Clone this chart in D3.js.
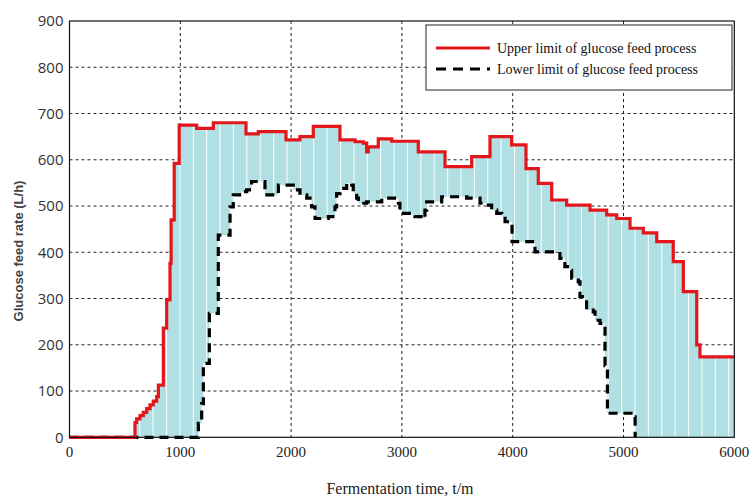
<!DOCTYPE html>
<html lang="en">
<head>
<meta charset="UTF-8">
<title>Glucose feed rate limits</title>
<script src="https://cdn.jsdelivr.net/npm/d3@7"></script>
<style>
    body { margin: 0; background: #fff; }
    .grid line { stroke: #222; stroke-width: 1; stroke-dasharray: 3,3; }
    .ytick { font-family: "Open Sans", sans-serif; font-size: 15px; fill: #333; }
    .xtick { font-family: "Liberation Serif", serif; font-size: 15px; fill: #222; }
    .legend text { font-family: "Liberation Serif", serif; font-size: 14px; fill: #111; }
</style>
</head>
<body>
<div id="chart"></div>
<script>
// upper limit of glucose feed, step values (time in min, rate in L/h)
var upperTime = [0, 591, 606, 636, 666, 697, 727, 756, 787, 802, 847, 877, 907, 917, 945, 990,
    1148, 1298, 1593, 1704, 1954, 2080, 2200, 2441, 2577, 2652, 2682, 2697, 2787, 2908, 3148,
    3389, 3630, 3795, 3990, 4120, 4231, 4352, 4487, 4698, 4848, 4939, 5059, 5179, 5300, 5449,
    5540, 5661, 5690, 6000];
var upperRate = [0, 32, 40, 47, 54, 62, 70, 78, 88, 113, 236, 297, 376, 470, 592, 675,
    668, 680, 656, 661, 643, 650, 672, 643, 639, 636, 617, 628, 645, 640, 617,
    585, 607, 650, 632, 581, 549, 513, 502, 491, 481, 473, 452, 442, 423, 380,
    315, 200, 174, 174];

// lower limit of glucose feed
var lowerTime = [0, 1163, 1193, 1208, 1262, 1343, 1449, 1478, 1554, 1599, 1644, 1764, 1885,
    2020, 2080, 2141, 2186, 2216, 2336, 2396, 2411, 2441, 2502, 2547, 2561, 2592, 2607, 2682,
    2818, 2968, 2982, 2998, 3088, 3118, 3193, 3208, 3224, 3359, 3585, 3705, 3765, 3810, 3856,
    3901, 3931, 3994, 4201, 4426, 4471, 4517, 4532, 4592, 4607, 4652, 4667, 4727, 4743, 4788,
    4833, 4855, 5090, 5105];
var lowerRate = [0, 30, 73, 160, 268, 437, 498, 524, 531, 535, 553, 524, 545,
    535, 524, 517, 498, 473, 477, 498, 527, 538, 549, 545, 527, 517, 506, 509,
    517, 506, 491, 484, 481, 477, 473, 491, 509, 520, 517, 506, 502, 491, 484,
    477, 466, 423, 401, 387, 369, 361, 344, 336, 304, 297, 275, 271, 253, 246,
    155, 52, 44, 0];

var xTicks = [0, 1000, 2000, 3000, 4000, 5000, 6000];
var yTicks = [0, 100, 200, 300, 400, 500, 600, 700, 800, 900];

var legendLabels = ["Upper limit of glucose feed process", "Lower limit of glucose feed process"];

var stripeStart = 30, stripeStep = 120.8;

var W = 750, H = 499;
var margin = {top: 21, right: 15.7, bottom: 61.7, left: 69.5};
var width = W - margin.left - margin.right;
var height = H - margin.top - margin.bottom;

var svg = d3.select("#chart").append("svg")
    .attr("width", W)
    .attr("height", H);

var g = svg.append("g")
    .attr("transform", "translate(" + margin.left + "," + margin.top + ")");

var x = d3.scaleLinear().domain([0, 6000]).range([0, width]);
var y = d3.scaleLinear().domain([0, 900]).range([height, 0]);

var upper = upperTime.map(function(t, i) { return [t, upperRate[i]]; });
var lower = lowerTime.map(function(t, i) { return [t, lowerRate[i]]; });

// value of a step-after series at time t
function stepAt(times, rates, t) {
    var i = d3.bisectRight(times, t) - 1;
    return i < 0 ? 0 : rates[i];
}

var allTimes = Array.from(new Set(upperTime.concat(lowerTime))).sort(d3.ascending);
var band = allTimes.map(function(t) {
    return {t: t, lo: stepAt(lowerTime, lowerRate, t), hi: stepAt(upperTime, upperRate, t)};
});

// grid
var grid = g.append("g").attr("class", "grid");
grid.selectAll("line.gx")
    .data(xTicks.slice(1, -1))
    .enter().append("line")
    .attr("x1", function(d) { return x(d); })
    .attr("x2", function(d) { return x(d); })
    .attr("y1", 0)
    .attr("y2", height);
grid.selectAll("line.gy")
    .data(yTicks.slice(1, -1))
    .enter().append("line")
    .attr("x1", 0)
    .attr("x2", width)
    .attr("y1", function(d) { return y(d); })
    .attr("y2", function(d) { return y(d); });

// shaded band between the limits
var area = d3.area()
    .curve(d3.curveStepAfter)
    .x(function(d) { return x(d.t); })
    .y0(function(d) { return y(d.lo); })
    .y1(function(d) { return y(d.hi); });

svg.append("defs").append("clipPath")
    .attr("id", "bandClip")
    .append("path")
    .attr("d", area(band));

g.append("path")
    .attr("d", area(band))
    .attr("fill", "#b0e0e3");

g.append("g")
    .attr("clip-path", "url(#bandClip)")
    .selectAll("line")
    .data(d3.range(stripeStart, 6000, stripeStep))
    .enter().append("line")
    .attr("x1", function(d) { return x(d); })
    .attr("x2", function(d) { return x(d); })
    .attr("y1", 0)
    .attr("y2", height)
    .attr("stroke", "#fff")
    .attr("stroke-opacity", 0.9)
    .attr("stroke-width", 1.1);

var line = d3.line()
    .curve(d3.curveStepAfter)
    .x(function(d) { return x(d[0]); })
    .y(function(d) { return y(d[1]); });

g.append("path")
    .datum(lower)
    .attr("d", line)
    .attr("fill", "none")
    .attr("stroke", "#000")
    .attr("stroke-width", 3.2)
    .attr("stroke-dasharray", "9,6");

g.append("path")
    .datum(upper)
    .attr("d", line)
    .attr("fill", "none")
    .attr("stroke", "#e3161b")
    .attr("stroke-width", 3.2);

// frame
g.append("rect")
    .attr("width", width)
    .attr("height", height)
    .attr("fill", "none")
    .attr("stroke", "#111")
    .attr("stroke-width", 1.2);

// tick labels
g.selectAll("text.ytick")
    .data(yTicks)
    .enter().append("text")
    .attr("class", "ytick")
    .attr("x", -6)
    .attr("y", function(d) { return y(d); })
    .attr("dy", "0.36em")
    .attr("text-anchor", "end")
    .text(function(d) { return d; });

g.selectAll("text.xtick")
    .data(xTicks)
    .enter().append("text")
    .attr("class", "xtick")
    .attr("x", function(d) { return x(d); })
    .attr("y", height + 20)
    .attr("text-anchor", "middle")
    .text(function(d) { return d; });

svg.append("text")
    .attr("x", 400)
    .attr("y", 494)
    .attr("text-anchor", "middle")
    .style("font-family", "Liberation Serif, serif")
    .style("font-size", "16px")
    .style("fill", "#222")
    .text("Fermentation time, t/m");

svg.append("text")
    .attr("transform", "translate(23,251) rotate(-90)")
    .attr("text-anchor", "middle")
    .style("font-family", "Liberation Sans, sans-serif")
    .style("font-size", "13px")
    .style("font-weight", "bold")
    .style("fill", "#444")
    .text("Glucose feed rate (L/h)");

// legend
var legend = svg.append("g").attr("class", "legend");
legend.append("rect")
    .attr("x", 426)
    .attr("y", 25)
    .attr("width", 306)
    .attr("height", 65)
    .attr("fill", "#fff")
    .attr("stroke", "#222")
    .attr("stroke-width", 1);

var rows = legend.selectAll("g.row")
    .data(legendLabels)
    .enter().append("g")
    .attr("transform", function(d, i) { return "translate(436," + (48 + i * 21) + ")"; });

rows.append("line")
    .attr("x1", 0)
    .attr("x2", 54)
    .attr("stroke", function(d, i) { return i === 0 ? "#e3161b" : "#000"; })
    .attr("stroke-width", 3)
    .attr("stroke-dasharray", function(d, i) { return i === 0 ? null : "10,7"; });

rows.append("text")
    .attr("x", 61)
    .attr("dy", "0.33em")
    .text(function(d) { return d; });
</script>
</body>
</html>
